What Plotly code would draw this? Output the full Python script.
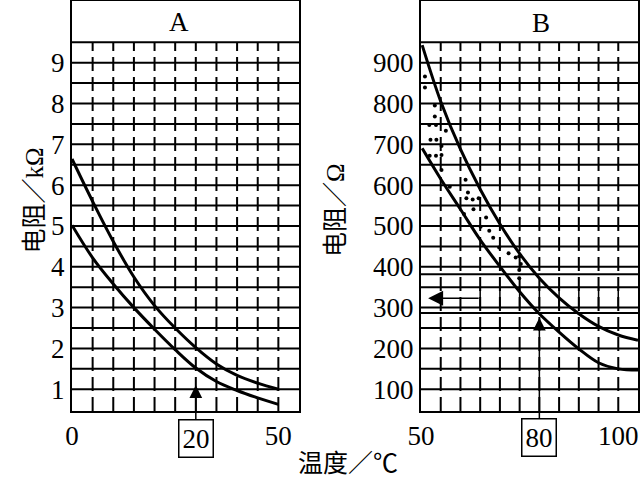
import plotly.graph_objects as go

# ---------------- Panel A : resistance (kOhm) vs temperature (°C) ----------------
a_upper_t = [0, 5, 10, 15, 20, 25, 30, 35, 40, 45, 50]
a_upper_r = [6.64, 5.6, 4.62, 3.75, 3.05, 2.5, 2.02, 1.62, 1.34, 1.15, 1.0]
a_lower_t = [0, 5, 10, 15, 20, 25, 30, 35, 40, 45, 50]
a_lower_r = [5.02, 4.22, 3.58, 3.0, 2.47, 1.97, 1.52, 1.19, 0.97, 0.79, 0.63]
a_ytick_vals = [1, 2, 3, 4, 5, 6, 7, 8, 9]
a_xtick_vals = [0, 50]
a_xtick_text = ["0", "50"]
a_hlines = [1, 1.5, 2, 2.5, 3, 3.5, 4, 4.5, 5, 5.5, 6, 6.5, 7, 7.5, 8, 8.5, 9, 9.5]
a_vlines = [5, 10, 15, 20, 25, 30, 35, 40, 45, 50]
a_mark_t, a_mark_label, a_mark_tip = 30, "20", 1.1

# ---------------- Panel B : resistance (Ohm) vs temperature (°C) ----------------
b_upper_t = [50.3, 55, 60, 65, 70, 75, 80, 85, 90, 95, 100, 105]
b_upper_r = [943, 805, 688, 590, 505, 432, 372, 324, 285, 254, 233, 220]
b_lower_t = [50.3, 55, 60, 65, 70, 75, 80, 85, 90, 95, 100, 105]
b_lower_r = [690, 615, 541, 466, 401, 339, 285, 240, 199, 165, 150, 147]
b_dots_t = [51.0, 51.0, 53.5, 53.5, 52.1, 53.8, 56.3, 52.4, 53.9, 55.2, 52.2, 53.8, 55.2, 55.2, 57.3,
            61.3, 61.9, 61.5, 63.1, 64.6, 63.3, 60.9, 66.5, 65.1, 67.3, 68.3, 69.8, 72.2, 74.0, 74.9,
            75.3, 74.9, 74.9]
b_dots_r = [866, 839, 795, 768, 747, 747, 733, 711, 711, 696, 672, 672, 674, 637, 596,
            613, 582, 568, 565, 568, 541, 529, 521, 498, 488, 471, 447, 433, 423, 426,
            407, 392, 372]
b_ytick_vals = [100, 200, 300, 400, 500, 600, 700, 800, 900]
b_xtick_vals = [50, 100]
b_xtick_text = ["50", "100"]
b_hlines = [100, 150, 200, 250, 287, 300, 350, 382, 400, 450, 500, 550, 600, 650, 700, 750, 800, 850, 900, 950]
b_vlines = [55, 60, 65, 70, 75, 80, 85, 90, 95, 100]
b_solid_cols = [65, 70, 75, 80, 85, 90, 95, 100]
b_solid_band = [300, 350]
b_mark_t, b_mark_label, b_mark_tip = 80, "80", 275
b_left_arrow = dict(tail_t=65, tip_t=51.8, r=323)

FONT = "Liberation Serif, Noto Sans CJK SC, serif"
FS = 27
W, H = 643, 494

fig = go.Figure()

line_style = dict(color="black", width=3, shape="spline", smoothing=1.0)
fig.add_trace(go.Scatter(x=a_upper_t, y=a_upper_r, mode="lines", line=line_style, xaxis="x", yaxis="y", showlegend=False))
fig.add_trace(go.Scatter(x=a_lower_t, y=a_lower_r, mode="lines", line=line_style, xaxis="x", yaxis="y", showlegend=False))
fig.add_trace(go.Scatter(x=b_upper_t, y=b_upper_r, mode="lines", line=line_style, xaxis="x2", yaxis="y2", showlegend=False))
fig.add_trace(go.Scatter(x=b_lower_t, y=b_lower_r, mode="lines", line=line_style, xaxis="x2", yaxis="y2", showlegend=False))
fig.add_trace(go.Scatter(x=b_dots_t, y=b_dots_r, mode="markers", marker=dict(color="black", size=4),
                         xaxis="x2", yaxis="y2", showlegend=False))

shapes = []
a_yr = [0.468, 10.51]
b_yr = [46.8, 1051]
for v in a_hlines:
    shapes.append(dict(type="line", xref="x domain", yref="y", x0=0, x1=1, y0=v, y1=v,
                       line=dict(color="black", width=2), layer="below"))
for v in a_vlines:
    shapes.append(dict(type="line", xref="x", yref="y", x0=v, x1=v, y0=a_yr[0], y1=9.5,
                       line=dict(color="black", width=2, dash="14px,6px"), layer="below"))
for v in b_hlines:
    shapes.append(dict(type="line", xref="x2 domain", yref="y2", x0=0, x1=1, y0=v, y1=v,
                       line=dict(color="black", width=2), layer="below"))
for v in b_vlines:
    shapes.append(dict(type="line", xref="x2", yref="y2", x0=v, x1=v, y0=b_yr[0], y1=950,
                       line=dict(color="black", width=2, dash="14px,6px"), layer="below"))
for v in b_solid_cols:
    shapes.append(dict(type="line", xref="x2", yref="y2", x0=v, x1=v, y0=b_solid_band[0], y1=b_solid_band[1],
                       line=dict(color="black", width=1.5), layer="below"))

annotations = [
    dict(text="A", x=26, y=10.0, xref="x", yref="y", showarrow=False, font=dict(family=FONT, size=FS, color="black")),
    dict(text="B", x=80.5, y=997, xref="x2", yref="y2", showarrow=False, font=dict(family=FONT, size=FS, color="black")),
    dict(text="电阻／kΩ", x=18 / W, y=(H - 201) / H, xref="paper", yref="paper", textangle=-90, showarrow=False,
         font=dict(family=FONT, size=25, color="black")),
    dict(text="电阻／Ω", x=335 / W, y=(H - 210) / H, xref="paper", yref="paper", textangle=-90, showarrow=False,
         font=dict(family=FONT, size=25, color="black")),
    dict(text="温度／℃", x=348 / W, y=(H - 479) / H, xref="paper", yref="paper", showarrow=False,
         font=dict(family=FONT, size=25, color="black")),
    dict(text=a_mark_label, x=a_mark_t, y=a_mark_tip, xref="x", yref="y", ax=0, ay=53,
         showarrow=True, arrowhead=2, arrowsize=1.7, arrowwidth=1.5, arrowcolor="black",
         bordercolor="black", borderwidth=1.5, borderpad=3, font=dict(family=FONT, size=FS, color="black")),
    dict(text=b_mark_label, x=b_mark_t, y=b_mark_tip, xref="x2", yref="y2", ax=0, ay=120,
         showarrow=True, arrowhead=2, arrowsize=1.7, arrowwidth=1.5, arrowcolor="black",
         bordercolor="black", borderwidth=1.5, borderpad=3, font=dict(family=FONT, size=FS, color="black")),
    dict(text="", x=b_left_arrow["tip_t"], y=b_left_arrow["r"], ax=b_left_arrow["tail_t"], ay=b_left_arrow["r"],
         xref="x2", yref="y2", axref="x2", ayref="y2", showarrow=True, arrowhead=2, arrowsize=2.0,
         arrowwidth=1.5, arrowcolor="black"),
]

axis_common = dict(showgrid=False, zeroline=False, showline=True, mirror=True, linecolor="black", linewidth=2,
                   ticks="", tickfont=dict(family=FONT, size=FS, color="black"), fixedrange=True,
                   automargin=False)

fig.update_layout(
    width=W, height=H,
    margin=dict(l=0, r=0, t=0, b=0, autoexpand=False),
    paper_bgcolor="white", plot_bgcolor="white",
    xaxis=dict(domain=[72 / W, 299 / W], range=[0, 55], tickvals=a_xtick_vals, ticktext=a_xtick_text,
               anchor="y", **axis_common),
    yaxis=dict(domain=[(H - 411) / H, 1 - 1 / H], range=a_yr, tickvals=a_ytick_vals, anchor="x", **axis_common),
    xaxis2=dict(domain=[421 / W, 638 / W], range=[50, 105], tickvals=b_xtick_vals, ticktext=b_xtick_text,
                anchor="y2", **axis_common),
    yaxis2=dict(domain=[(H - 411) / H, 1 - 1 / H], range=b_yr, tickvals=b_ytick_vals, anchor="x2", **axis_common),
    shapes=shapes,
    annotations=annotations,
)

fig.write_html("out.html", config={"displayModeBar": False},
               post_script="document.body.style.margin='0';")
